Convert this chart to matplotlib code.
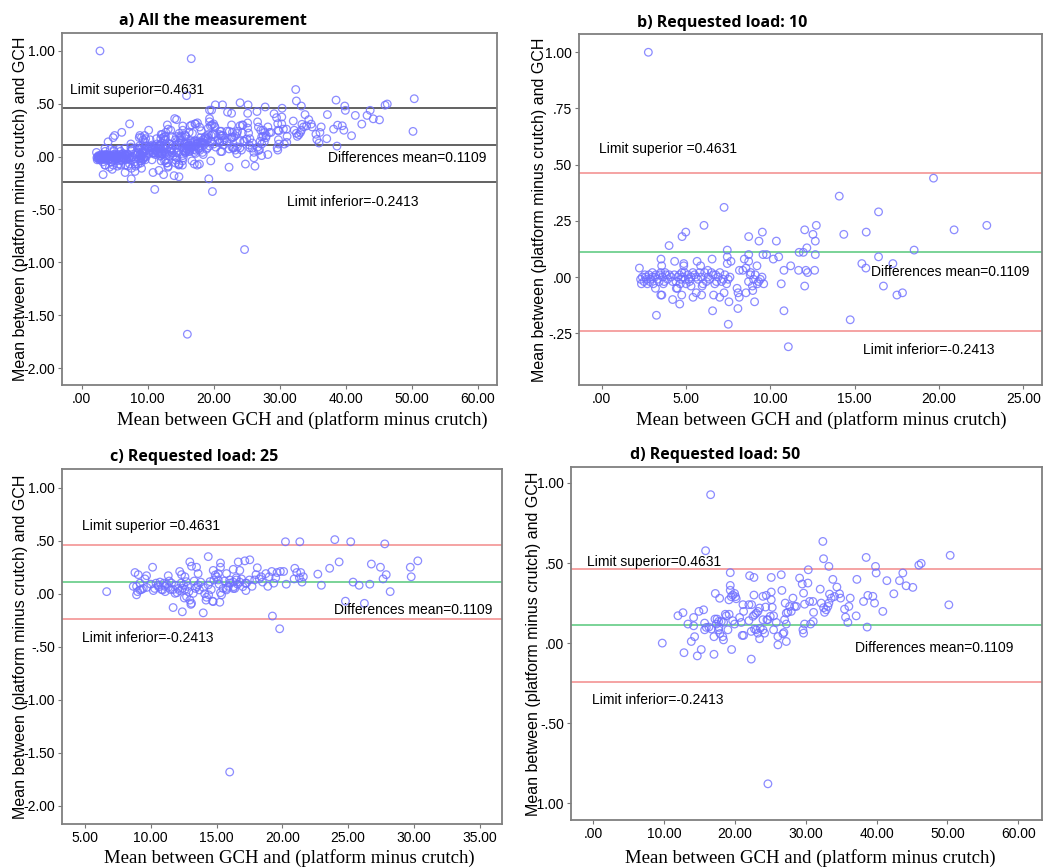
import matplotlib
matplotlib.use("Agg")
import matplotlib.pyplot as plt
from matplotlib.ticker import FuncFormatter

# Bland-Altman values: (mean, difference)
load10 = [
    (2.76, 1.00), (7.25, 0.31), (6.06, 0.23), (4.98, 0.20), (4.76, 0.18), (3.99, 0.14),
    (3.51, 0.08), (4.32, 0.07), (4.86, 0.06), (4.86, 0.05), (5.65, 0.07), (5.86, 0.05),
    (6.54, 0.08), (7.44, 0.12), (7.44, 0.09), (7.66, 0.07), (7.44, 0.06), (8.71, 0.18),
    (8.71, 0.10), (8.45, 0.08), (8.71, 0.07), (9.32, 0.16), (9.52, 0.20), (9.56, 0.10),
    (9.77, 0.10), (9.20, 0.05), (10.17, 0.08), (10.35, 0.16), (10.49, 0.09), (11.20, 0.05),
    (10.80, 0.03), (11.67, 0.03), (11.70, 0.11), (11.95, 0.11), (12.03, 0.21), (12.16, 0.13),
    (12.52, 0.19), (12.66, 0.16), (12.72, 0.23), (12.66, 0.10), (12.62, 0.03), (12.10, 0.03),
    (12.20, 0.02), (12.03, -0.04), (10.64, -0.03), (10.80, -0.15), (11.06, -0.31), (14.08, 0.36),
    (14.35, 0.19), (14.73, -0.19), (15.42, 0.06), (15.66, 0.04), (15.68, 0.20), (16.41, 0.29),
    (16.41, 0.09), (16.70, -0.04), (17.26, 0.06), (17.50, -0.08), (17.83, -0.07), (18.52, 0.12),
    (19.67, 0.44), (20.89, 0.21), (22.83, 0.23), (7.50, -0.21), (7.54, -0.11), (8.07, -0.14),
    (9.06, -0.11), (6.57, -0.15), (3.24, -0.17), (4.62, -0.12), (4.20, -0.10), (3.50, -0.08),
    (3.56, -0.08), (3.18, -0.05), (4.74, -0.08), (5.41, -0.09), (5.92, -0.08), (5.60, -0.07),
    (6.63, -0.08), (6.99, -0.09), (7.25, -0.07), (8.02, -0.05), (8.08, -0.07), (8.15, -0.09),
    (8.55, -0.07), (8.95, -0.06), (9.22, -0.03), (8.93, -0.04), (5.29, -0.04), (4.42, -0.05),
    (4.48, -0.05), (2.23, 0.04), (6.28, 0.03), (8.16, 0.03), (8.36, 0.03), (8.55, 0.04),
    (8.83, 0.02), (2.30, -0.01), (2.50, -0.02), (2.60, 0.00), (2.70, -0.03), (2.80, 0.01),
    (2.90, -0.01), (3.00, 0.00), (3.20, 0.01), (3.30, -0.01), (3.50, 0.02), (3.60, 0.00),
    (3.70, -0.02), (3.80, 0.01), (3.90, -0.01), (4.10, 0.00), (4.30, 0.01), (4.40, -0.02),
    (4.60, 0.01), (4.70, -0.01), (4.80, 0.00), (4.90, 0.02), (5.00, -0.03), (5.10, 0.01),
    (5.30, 0.00), (5.50, 0.01), (5.70, -0.01), (5.90, 0.00), (6.00, -0.03), (6.10, 0.02),
    (6.30, 0.00), (6.40, -0.01), (6.60, 0.01), (6.80, -0.02), (6.90, 0.00), (7.10, -0.02),
    (7.30, 0.01), (7.50, -0.01), (7.60, 0.00), (8.80, 0.01), (9.00, -0.01), (9.30, -0.02),
    (9.50, 0.00), (9.60, -0.03), (3.55, 0.05), (3.00, 0.02), (2.40, 0.00), (5.20, -0.02),
    (6.70, -0.03), (7.00, 0.02), (5.95, -0.04),
    (2.35, -0.03), (2.55, 0.01), (2.65, -0.01), (2.85, -0.02), (3.05, -0.03), (3.15, 0.00),
    (3.40, -0.02), (3.45, 0.01), (3.65, -0.03), (3.75, 0.02), (4.00, 0.01), (4.20, -0.02),
    (4.50, 0.00), (4.65, -0.03), (4.75, 0.02), (4.95, -0.01), (5.15, -0.01), (5.40, 0.02),
    (5.60, 0.00), (5.80, 0.02), (6.20, -0.02), (6.50, 0.02), (6.75, 0.01), (7.20, -0.01),
    (7.40, -0.03), (8.70, -0.02), (9.10, 0.01), (9.40, -0.01),
]

load25 = [
    (6.65, 0.02), (8.80, 0.20), (9.05, 0.18), (9.68, 0.17), (9.56, 0.14), (10.14, 0.25),
    (8.67, 0.07), (8.92, 0.07), (9.18, 0.10), (9.43, 0.05), (8.92, -0.01), (9.18, 0.035),
    (10.30, 0.05), (10.57, 0.08), (10.82, 0.04), (11.08, 0.07), (11.33, 0.06), (11.58, 0.10),
    (11.33, 0.17), (11.70, -0.13), (12.20, 0.21), (12.34, 0.18), (12.60, 0.16), (12.40, -0.17),
    (12.97, 0.30), (13.10, 0.26), (13.48, 0.25), (14.37, 0.35), (13.99, -0.18), (13.05, -0.10),
    (13.60, 0.19), (14.10, 0.00), (14.40, -0.01), (14.20, -0.06), (14.70, -0.07), (15.25, -0.08),
    (15.30, 0.01), (14.75, 0.22), (15.13, 0.19), (15.30, 0.29), (15.30, 0.25), (15.76, 0.19),
    (16.27, 0.23), (16.77, 0.22), (16.65, 0.30), (17.15, 0.31), (17.53, 0.32), (16.00, 0.13),
    (16.27, 0.11), (16.50, 0.15), (16.77, 0.11), (15.76, 0.05), (16.27, 0.05), (16.39, 0.05),
    (17.28, 0.10), (17.23, 0.03), (18.10, 0.245), (17.90, 0.13), (18.25, 0.14), (18.50, 0.11),
    (18.75, 0.19), (19.00, 0.16), (19.20, 0.21), (19.60, 0.20), (19.85, 0.21), (20.10, 0.21),
    (18.90, 0.07), (19.35, 0.10), (19.25, -0.21), (19.80, -0.33), (20.24, 0.49), (20.30, 0.09),
    (20.95, 0.24), (21.10, 0.20), (21.30, 0.15), (21.40, 0.20), (21.60, 0.16), (20.90, 0.14),
    (21.33, 0.49), (21.50, 0.11), (22.70, 0.185), (22.97, 0.08), (23.60, 0.24), (23.99, 0.51),
    (24.32, 0.30), (24.80, -0.07), (25.20, 0.49), (25.38, 0.11), (25.84, 0.08), (26.24, -0.09),
    (26.65, 0.09), (26.77, 0.28), (27.46, 0.25), (27.66, 0.14), (27.79, 0.47), (27.90, 0.18),
    (28.20, 0.02), (29.73, 0.25), (29.80, 0.16), (30.30, 0.31), (16.00, -1.68),
    (9.00, 0.02), (9.30, 0.04), (10.40, 0.10), (10.90, 0.036), (11.20, 0.09), (11.50, 0.04),
    (11.70, 0.04), (11.85, 0.004), (12.10, 0.05), (12.30, 0.10), (12.40, 0.05), (12.60, 0.04),
    (12.70, 0.114), (12.72, -0.027), (12.97, -0.06), (13.10, -0.09), (13.23, 0.004), (13.50, 0.067),
    (13.60, 0.083), (13.70, 0.036), (14.24, -0.033), (14.75, -0.074), (15.38, -0.011), (15.13, 0.13),
    (14.37, 0.083), (14.50, 0.114), (14.80, 0.13), (15.00, 0.16), (14.90, 0.177), (15.50, 0.05),
    (15.75, 0.036), (16.00, 0.10), (16.30, 0.067), (16.50, 0.13), (17.00, 0.067), (17.20, 0.10),
    (17.50, 0.13), (12.50, 0.08), (13.30, 0.12), (11.00, 0.10), (10.60, 0.065), (12.00, 0.01),
    (12.55, -0.04), (12.80, 0.07),
    (9.70, 0.06), (10.00, 0.09), (10.20, 0.03), (10.70, 0.11), (11.10, 0.02), (11.40, 0.12),
    (11.90, 0.08), (12.20, 0.03), (12.90, 0.02), (13.40, 0.05), (13.80, 0.11), (14.00, 0.06),
    (14.60, 0.04), (15.20, 0.09), (15.60, 0.12), (15.90, 0.07), (16.60, 0.09), (16.90, 0.14),
    (17.70, 0.07), (18.00, 0.18), (18.40, 0.16), (19.50, 0.15),
]

load50 = [
    (16.59, 0.927), (15.88, 0.577), (9.77, 0.00), (11.98, 0.171), (12.69, 0.19), (12.83, -0.06),
    (13.39, 0.119), (13.86, 0.01), (14.33, 0.04), (14.19, 0.16), (14.19, 0.108), (14.71, -0.08),
    (15.27, -0.04), (14.94, 0.198), (15.60, 0.208), (15.74, 0.125), (15.74, 0.083), (15.98, 0.098),
    (16.35, 0.10), (16.70, 0.088), (17.06, 0.04), (17.06, -0.07), (17.25, 0.31), (17.86, 0.28),
    (17.20, 0.15), (17.50, 0.15), (17.72, 0.135), (17.40, 0.119), (17.76, 0.098), (18.09, 0.135),
    (18.42, 0.13), (18.40, 0.02), (18.30, 0.04), (17.70, 0.083), (17.90, 0.06), (19.03, 0.083),
    (18.80, 0.17), (19.20, 0.18), (18.66, 0.18), (19.36, 0.44), (19.36, 0.36), (19.36, 0.33),
    (19.50, 0.29), (19.17, 0.27), (19.70, 0.30), (20.10, 0.29), (20.20, 0.277), (19.97, 0.31),
    (19.55, -0.04), (19.70, 0.14), (19.97, 0.119), (20.68, 0.16), (20.91, 0.129), (21.15, 0.24),
    (21.24, 0.198), (21.05, 0.048), (21.24, 0.048), (22.09, 0.421), (22.70, 0.41), (21.99, 0.24),
    (22.37, 0.24), (22.70, 0.30), (21.99, 0.14), (22.32, 0.073), (22.32, -0.10), (22.56, 0.167),
    (22.79, 0.177), (23.03, 0.187), (23.26, 0.198), (23.50, 0.219), (22.79, 0.087), (23.03, 0.083),
    (23.26, 0.062), (23.50, 0.027), (23.59, 0.093), (23.97, 0.292), (24.44, 0.298), (24.34, 0.225),
    (24.53, 0.146), (23.97, 0.146), (23.97, 0.083), (24.20, 0.062), (24.67, 0.146), (25.00, 0.167),
    (25.14, 0.41), (25.14, 0.319), (25.14, 0.271), (25.28, 0.223), (25.47, 0.17), (25.47, 0.083),
    (25.85, 0.129), (24.67, -0.879), (26.55, 0.427), (26.64, 0.329), (26.08, 0.041), (26.08, -0.011),
    (26.79, 0.058), (26.93, 0.066), (27.26, 0.01), (27.26, 0.119), (27.02, 0.146), (27.26, 0.187),
    (27.11, 0.25), (27.49, 0.193), (28.20, 0.281), (28.43, 0.229), (28.67, 0.229), (27.73, 0.229),
    (27.96, 0.198), (29.14, 0.406), (29.51, 0.369), (29.70, 0.312), (29.84, 0.243), (30.31, 0.375),
    (29.61, 0.083), (29.70, 0.062), (29.84, 0.119), (30.36, 0.458), (30.55, 0.26), (31.02, 0.26),
    (30.69, 0.119), (31.06, 0.135), (31.11, 0.192), (32.05, 0.337), (32.19, 0.25), (32.52, 0.221),
    (32.66, 0.192), (32.89, 0.208), (33.13, 0.229), (33.27, 0.25), (33.36, 0.306), (33.60, 0.281),
    (32.52, 0.527), (32.42, 0.635), (33.27, 0.479), (33.83, 0.398), (34.07, 0.291), (34.40, 0.35),
    (34.77, 0.308), (34.92, 0.281), (35.48, 0.212), (35.62, 0.162), (35.95, 0.129), (36.09, 0.229),
    (36.28, 0.281), (37.22, 0.398), (37.12, 0.17), (38.16, 0.26), (38.53, 0.535), (38.67, 0.10),
    (38.77, 0.298), (39.47, 0.292), (39.71, 0.25), (39.85, 0.479), (39.94, 0.438), (40.88, 0.198),
    (41.45, 0.39), (42.43, 0.308), (43.23, 0.39), (43.70, 0.438), (44.17, 0.358), (45.11, 0.348),
    (45.96, 0.487), (46.29, 0.498), (50.19, 0.239), (50.38, 0.548),
]

mean_diff = 0.1109
limit_sup = 0.4631
limit_inf = -0.2413

titles = ["a) All the measurement", "b) Requested load: 10",
          "c) Requested load: 25", "d) Requested load: 50"]
x_ticks = [[0, 10, 20, 30, 40, 50, 60], [0, 5, 10, 15, 20, 25],
           [5, 10, 15, 20, 25, 30, 35], [0, 10, 20, 30, 40, 50, 60]]
y_ticks = [[1, 0.5, 0, -0.5, -1, -1.5, -2], [1, 0.75, 0.5, 0.25, 0, -0.25],
           [1, 0.5, 0, -0.5, -1, -1.5, -2], [1, 0.5, 0, -0.5, -1]]
x_lims = [(-3.0, 62.9), (-1.36, 26.1), (3.25, 36.7), (-3.1, 63.4)]
y_lims = [(-2.16, 1.17), (-0.48, 1.08), (-2.17, 1.176), (-1.105, 1.10)]

XLABEL = "Mean between GCH and (platform minus crutch)"
YLABEL = "Mean between (platform minus crutch) and GCH"


def spss_fmt(v, pos):
    s = f"{v:.2f}"
    return s.replace("0.", ".", 1) if abs(v) < 1 else s


panels = [load10 + load25 + load50, load10, load25, load50]

# axes rectangles in figure fraction
rects = [[0.0594, 0.5565, 0.417, 0.4055], [0.555, 0.5565, 0.444, 0.404],
         [0.0594, 0.0507, 0.4219, 0.409], [0.5475, 0.0553, 0.452, 0.4067]]

# label placements (axes coords), texts positions (data coords)
ylab_x = [-0.095, -0.084, -0.095, -0.08]
xlab_pos = [(0.552, -0.10), (0.524, -0.10), (0.516, -0.096), (0.508, -0.108)]
title_x = [0.347, 0.31, 0.30, 0.305]
sup_pos = [(-1.8, 0.628), (-0.14, 0.568), (4.77, 0.639), (-0.9, 0.508)]
mean_pos = [(37.3, -0.015), (15.98, 0.022), (23.9, -0.153), (37.0, -0.028)]
inf_pos = [(31.1, -0.43), (15.5, -0.324), (4.77, -0.417), (-0.2, -0.353)]
sup_txt = ["Limit superior=0.4631", "Limit superior =0.4631",
           "Limit superior =0.4631", "Limit superior=0.4631"]

fig = plt.figure(figsize=(10.43, 8.68), dpi=100)

for i in range(4):
    ax = fig.add_axes(rects[i])
    xs = [p[0] for p in panels[i]]
    ys = [p[1] for p in panels[i]]
    if i == 0:
        lim_col, mean_col = "#555555", "#555555"
    else:
        lim_col, mean_col = "#f59c9c", "#6fd08f"
    ax.axhline(limit_sup, color=lim_col, lw=1.3, zorder=1)
    ax.axhline(limit_inf, color=lim_col, lw=1.3, zorder=1)
    ax.axhline(mean_diff, color=mean_col, lw=1.3, zorder=1)
    ax.scatter(xs, ys, s=30, facecolors="none", edgecolors="#6f6fff",
               linewidths=0.9, alpha=0.8, zorder=2)

    ax.set_xlim(*x_lims[i])
    ax.set_ylim(*y_lims[i])
    ax.set_xticks(x_ticks[i])
    ax.set_yticks(y_ticks[i])
    ax.xaxis.set_major_formatter(FuncFormatter(spss_fmt))
    ax.yaxis.set_major_formatter(FuncFormatter(spss_fmt))
    ax.tick_params(direction="out", length=3, width=0.8, color="#777777",
                   labelsize=10, pad=2)
    for lab in ax.get_xticklabels() + ax.get_yticklabels():
        lab.set_family("Liberation Sans")
    for sp in ax.spines.values():
        sp.set_color("#7f7f7f")
        sp.set_linewidth(1.3)

    ax.text(title_x[i], 1.033, titles[i], transform=ax.transAxes,
            ha="center", va="center", fontsize=11.5, fontweight="bold",
            family="Open Sans")
    ax.text(xlab_pos[i][0], xlab_pos[i][1], XLABEL, transform=ax.transAxes,
            ha="center", va="center", fontsize=13.5, family="Liberation Serif")
    ax.text(ylab_x[i], 0.5, YLABEL, transform=ax.transAxes, rotation=90,
            ha="center", va="center", fontsize=11.5, family="Liberation Sans")

    tfont = dict(fontsize=10, family="Liberation Sans", va="center", ha="left")
    ax.text(*sup_pos[i], sup_txt[i], **tfont)
    ax.text(*mean_pos[i], "Differences mean=0.1109", **tfont)
    ax.text(*inf_pos[i], "Limit inferior=-0.2413", **tfont)

fig.savefig("out.png", dpi=100)
